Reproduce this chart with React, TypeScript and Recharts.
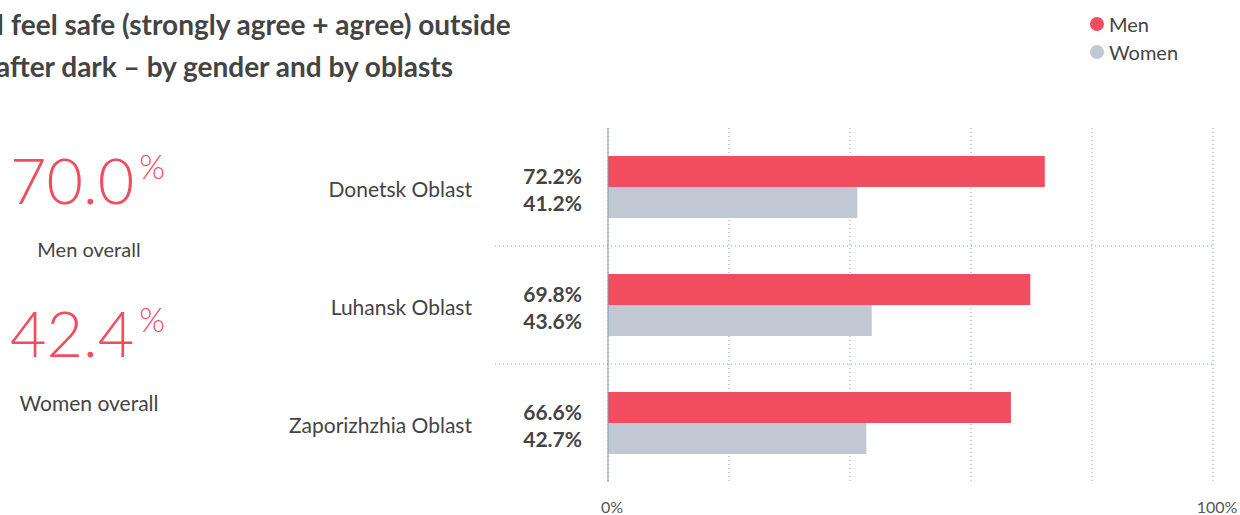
import { BarChart, Bar, XAxis, YAxis, CartesianGrid, ReferenceLine, LabelList } from 'recharts';

const oblasts = ['Donetsk Oblast', 'Luhansk Oblast', 'Zaporizhzhia Oblast'];
const menValues = [72.2, 69.8, 66.6];
const womenValues = [41.2, 43.6, 42.7];
const menOverall = 70.0;
const womenOverall = 42.4;
const xTicks = [0, 20, 40, 60, 80, 100];

const titleLines = [
  'I feel safe (strongly agree + agree) outside',
  'after dark \u2013 by gender and by oblasts',
];

const RED = '#f04d5e';
const GREY = '#c0c9d3';
const GRID = '#8aa2bb';
const TEXT = '#444';
const FONT = '"Source Sans Pro", Lato, "Open Sans", sans-serif';

const data = oblasts.map((name, i) => ({ name, men: menValues[i], women: womenValues[i] }));

// separators sit at the bottom edge of every band except the last one
const separators = oblasts.slice(0, -1);

function makeValueLabel(shift: number) {
  return function ValueLabel(props: any) {
    const { x, y, height, value } = props;
    return (
      <text
        x={x - 26}
        y={y + height / 2 + shift}
        textAnchor="end"
        dominantBaseline="central"
        fill={TEXT}
        fontSize={21}
        fontWeight={700}
        fontFamily={FONT}
      >
        {value.toFixed(1)}%
      </text>
    );
  };
}

function SepLine(props: any) {
  const { x1, x2, y1 } = props;
  return <line x1={x1 - 113} x2={x2} y1={y1} y2={y1} stroke={GRID} strokeDasharray="1 3" strokeWidth={1} />;
}

function BigStat({ value, label, top, labelSize }: { value: number; label: string; top: number; labelSize: number }) {
  return (
    <>
      <div
        style={{
          position: 'absolute',
          left: 10,
          top,
          fontFamily: FONT,
          color: RED,
          fontWeight: 300,
          fontSize: 63,
          lineHeight: '62px',
          whiteSpace: 'nowrap',
        }}
      >
        {value.toFixed(1)}
        <span style={{ fontSize: 33, verticalAlign: 'top', lineHeight: '34px', marginLeft: 5 }}>%</span>
      </div>
      <div
        style={{
          position: 'absolute',
          left: 0,
          width: 178,
          top: top + 88,
          textAlign: 'center',
          fontFamily: FONT,
          fontSize: labelSize,
          color: TEXT,
        }}
      >
        {label}
      </div>
    </>
  );
}

export default function App() {
  return (
    <div style={{ position: 'absolute', left: 0, top: 0, width: 1240, height: 515, background: '#fff', overflow: 'hidden' }}>
      <BarChart
        width={1240}
        height={515}
        data={data}
        layout="vertical"
        margin={{ top: 128, right: 27, bottom: 3, left: 308 }}
        barGap={0}
        barSize={31}
      >
        <CartesianGrid horizontal={false} stroke={GRID} strokeDasharray="1 3" />
        <XAxis
          type="number"
          domain={[0, 100]}
          ticks={xTicks}
          axisLine={false}
          tickLine={false}
          tickSize={0}
          tickMargin={20}
          tick={{ fill: '#555', fontSize: 16, fontFamily: FONT, dx: 4 }}
          tickFormatter={(v: number) => (v === 0 || v === 100 ? `${v}%` : '')}
          height={30}
        />
        <YAxis
          type="category"
          dataKey="name"
          width={300}
          axisLine={{ stroke: '#7f98b2' }}
          tickLine={false}
          tickSize={0}
          tickMargin={136}
          tick={{ fill: TEXT, fontSize: 21, fontFamily: FONT, dy: 3 }}
        />
        {separators.map(s => (
          <ReferenceLine key={s} y={s} position="end" shape={SepLine} ifOverflow="visible" />
        ))}
        <Bar dataKey="men" fill={RED} isAnimationActive={false}>
          <LabelList dataKey="men" content={makeValueLabel(4)} />
        </Bar>
        <Bar dataKey="women" fill={GREY} isAnimationActive={false}>
          <LabelList dataKey="women" content={makeValueLabel(0)} />
        </Bar>
      </BarChart>

      {titleLines.map((line, i) => (
        <div
          key={i}
          style={{
            position: 'absolute',
            left: -4,
            top: 8 + i * 42,
            fontFamily: FONT,
            fontWeight: 700,
            fontSize: 28,
            lineHeight: '32px',
            color: TEXT,
            whiteSpace: 'nowrap',
          }}
        >
          {line}
        </div>
      ))}

      <BigStat value={menOverall} label="Men overall" top={149} labelSize={20} />
      <BigStat value={womenOverall} label="Women overall" top={302} labelSize={21} />

      {[
        { name: 'Men', color: RED },
        { name: 'Women', color: GREY },
      ].map((item, i) => (
        <div
          key={item.name}
          style={{
            position: 'absolute',
            left: 1090,
            top: 12 + i * 28,
            display: 'flex',
            alignItems: 'center',
            fontFamily: FONT,
            fontSize: 20,
            color: TEXT,
          }}
        >
          <span style={{ width: 14, height: 14, borderRadius: 7, background: item.color, marginRight: 5 }} />
          {item.name}
        </div>
      ))}
    </div>
  );
}
